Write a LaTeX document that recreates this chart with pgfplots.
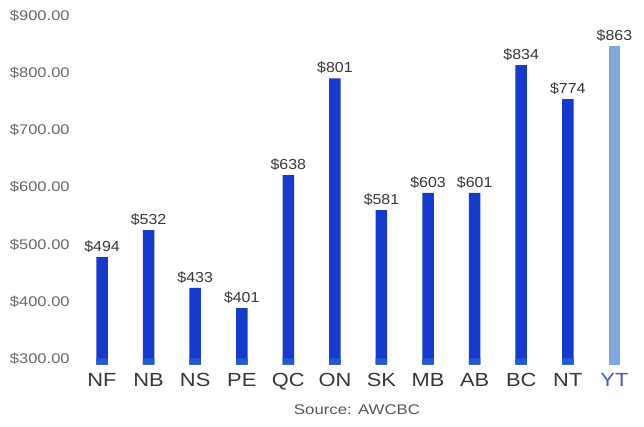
\documentclass[border=0pt]{standalone}
\usepackage{pgfplots}
\pgfplotsset{compat=1.18}
\usepackage{pgfplotstable}
\usepackage{fontspec}
\setmainfont{Liberation Sans}
\usepackage{graphicx}
\definecolor{barblue}{RGB}{22,58,205}
\definecolor{bandblue}{RGB}{34,90,212}
\definecolor{ytblue}{RGB}{128,166,226}
\definecolor{yttext}{RGB}{70,90,190}
\definecolor{labgray}{RGB}{55,55,55}
\definecolor{tickgray}{RGB}{105,105,105}

\pgfplotstableread{
x h lab
0 478 494
1 525 532
2 424 433
3 389 401
4 621 638
5 790 801
6 560 581
7 590 603
8 590 601
9 813 834
10 754 774
}\mainbars
\pgfplotstableread{
x h lab
11 846 863
}\ytbar
\pgfplotstableread{
x h
0 301
1 301
2 301
3 301
4 301
5 301
6 301
7 301
8 301
9 301
10 301
}\bands

\begin{document}
\begin{tikzpicture}
\useasboundingbox (-75pt,-62.3pt) rectangle (569pt,364.7pt);
\begin{axis}[
  scale only axis,
  width=565pt, height=355pt,
  xmin=-0.58, xmax=11.55,
  ymin=290, ymax=910,
  ybar, bar width=11.5pt, bar shift=0pt,
  axis line style={draw=none},
  major tick length=0pt,
  xtick={0,...,11},
  xticklabels={NF,NB,NS,PE,QC,ON,SK,MB,AB,BC,NT,\textcolor{yttext}{YT}},
  ytick={300,400,...,900},
  yticklabels={\$300.00,\$400.00,\$500.00,\$600.00,\$700.00,\$800.00,\$900.00},
  xticklabel style={font=\fontsize{19}{19}\selectfont, text=labgray, xscale=1.15, yshift=-5pt},
  yticklabel style={font=\fontsize{14}{14}\selectfont, text=tickgray, xscale=1.18, xshift=-1pt},
  nodes near coords={\$\pgfplotspointmeta},
  every node near coord/.append style={font=\fontsize{14.5}{14.5}\selectfont, text=labgray, xscale=1.1, anchor=south, yshift=1pt},
  point meta=explicit symbolic,
  clip=true,
]
\addplot[fill=barblue, draw=none] table[x=x, y=h, meta=lab] {\mainbars};
\addplot[fill=ytblue, draw=none] table[x=x, y=h, meta=lab] {\ytbar};
\addplot[fill=bandblue, draw=none, nodes near coords={}] table[x=x, y=h, meta=h] {\bands};
\end{axis}
\node[font=\fontsize{14}{14}\selectfont, text=labgray!85!white, xscale=1.2] at (282pt,-45pt) {Source: AWCBC};
\end{tikzpicture}
\end{document}
